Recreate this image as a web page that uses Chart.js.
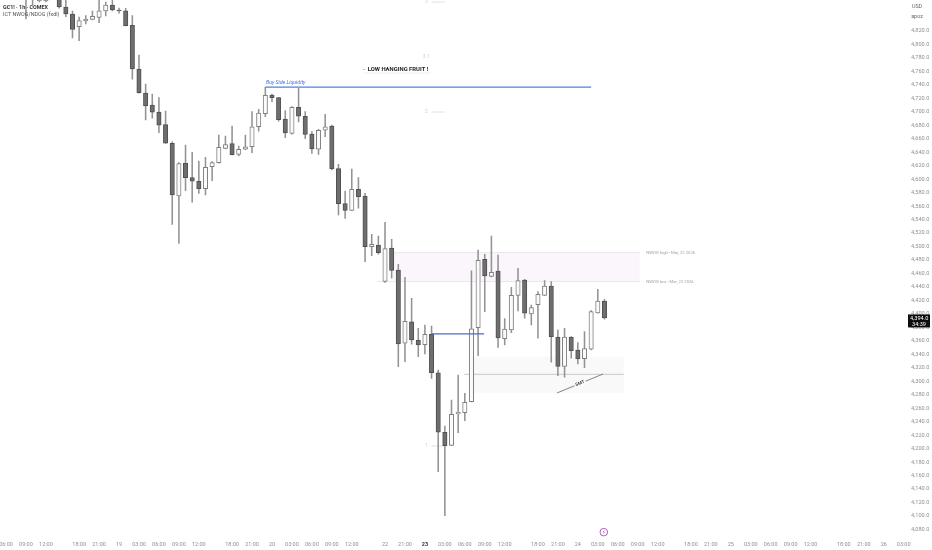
<!DOCTYPE html>
<html lang="en">
<head>
    <meta charset="UTF-8">
    <title>GC1! 1h</title>
    <script src="https://cdn.jsdelivr.net/npm/chart.js"></script>
    <style>
        html, body { margin: 0; padding: 0; background: #fff; overflow: hidden; }
        canvas { display: block; }
    </style>
</head>
<body>

    <canvas id="priceChart" width="932" height="550"></canvas>

    <script>
        // candles, first three bars are above the visible range
        const opens = [null, null, null, 4881, 4896, 4864.5, 4864.5, 4900, 4880, 4855.6,
            4845.2, 4826.4, 4834.8, 4837.3, 4840.3, 4849.7, 4858.6, 4851.2, 4850.1, 4828.4,
            4763.6, 4728, 4710.1, 4699.7, 4680.9, 4653.3, 4575, 4623.6, 4602.2, 4596.9,
            4585.9, 4618.5, 4624.5, 4645.8, 4652.7, 4636.9, 4644.4, 4648.2, 4677.9, 4697.2,
            4725, 4721, 4689.3, 4668.1, 4706.7, 4693.4, 4667, 4644.4, 4672.6, 4678.9,
            4615.6, 4563.6, 4553.8, 4585, 4575, 4499.8, 4502.3, 4448.4, 4497.8, 4465.2,
            4356.4, 4388.4, 4360.8, 4354.3, 4369.7, 4312.7, 4224.3, 4204.9, 4251.4, 4253.3,
            4269.7, 4379.5, 4481, 4455.8, 4463.7, 4363.2, 4376.1, 4427.6, 4450.3, 4399.9,
            4413.7, 4427.6, 4441.4, 4365.7, 4322.2, 4365.7, 4346.4, 4333.5, 4347.5, 4401.3,
            4419.2];
        const highs = [null, null, null, 4895, 4905, 4895, 4890, 4910, 4890, 4866,
            4849.7, 4840.8, 4843, 4849.7, 4866, 4863, 4870, 4854.1, 4853.7, 4842.7,
            4784.4, 4741.3, 4726.5, 4721, 4701.2, 4655.6, 4624.5, 4650.7, 4639.9, 4627,
            4632.5, 4626, 4665.6, 4664, 4679, 4649.3, 4665.6, 4700.2, 4703.7, 4736.4,
            4726.5, 4721.6, 4701.7, 4707.6, 4734.9, 4700.2, 4670.5, 4674.1, 4696.3, 4680.4,
            4622.1, 4582.5, 4615.1, 4602.2, 4579, 4518.2, 4515.7, 4536, 4510.8, 4473.6,
            4454.3, 4423.2, 4378.6, 4383.5, 4382, 4316.7, 4233.6, 4272.2, 4309.3, 4282.1,
            4464.1, 4494.9, 4488.5, 4515.7, 4487.5, 4392.9, 4439.5, 4467.7, 4451.4, 4413.2,
            4433, 4449.3, 4447.8, 4376.1, 4378.6, 4366.2, 4357.3, 4373.6, 4404.8, 4436.5,
            4421.7];
        const lows = [null, null, null, 4837.8, 4858.6, 4863, 4863, 4870, 4854, 4841.2,
            4809.6, 4805.6, 4830.4, 4836.3, 4832.3, 4842.2, 4849.7, 4846.3, 4827.4, 4748.3,
            4727.5, 4687.9, 4690.4, 4669, 4653, 4533, 4504.8, 4582.9, 4565.7, 4579,
            4576.5, 4597.7, 4623.6, 4644.8, 4635.9, 4634.4, 4643.8, 4639.3, 4671.1, 4692.8,
            4715, 4686, 4661.6, 4667, 4684.9, 4660.1, 4638.4, 4636.9, 4663, 4613.6,
            4546.8, 4541.9, 4553.2, 4556.8, 4477.5, 4486.4, 4488.5, 4446.9, 4452.9, 4321.6,
            4329, 4354.9, 4336.5, 4340.5, 4304.4, 4165.8, 4100.4, 4204.4, 4223.6, 4241.5,
            4269.2, 4338, 4403.3, 4454.8, 4350.4, 4353.8, 4372.1, 4404.3, 4393.5, 4383.5,
            4363.8, 4427, 4328.2, 4308.3, 4305.9, 4334.1, 4325.6, 4320, 4346.4, 4400.9,
            4392];
        const closes = [null, null, null, 4867.5, 4873, 4890, 4885, 4875, 4855.6, 4845.2,
            4822.2, 4835.3, 4837.8, 4841.8, 4850.1, 4858.6, 4851.2, 4849.7, 4827.8, 4763.6,
            4728.4, 4708.6, 4699.3, 4680, 4653.3, 4576.5, 4623, 4602.2, 4596.9, 4585.9,
            4617.6, 4624.5, 4647.3, 4651.2, 4636.3, 4644.4, 4648.2, 4677.9, 4698.2, 4724.5,
            4721, 4688.3, 4668.6, 4706.7, 4693.4, 4666.6, 4644.8, 4672.6, 4677.9, 4615.6,
            4563.6, 4553.8, 4585, 4574, 4499.8, 4503.3, 4490.9, 4496.8, 4464.7, 4355.3,
            4389, 4361.3, 4353.8, 4369.7, 4312.7, 4224.3, 4204.4, 4251, 4253.9, 4268.8,
            4378, 4479.6, 4456.3, 4461.8, 4364.2, 4377.6, 4427.6, 4449.3, 4400.9, 4409.2,
            4429.1, 4441.4, 4366.2, 4322.2, 4365.7, 4345.4, 4333.1, 4348.4, 4403.3, 4419.2,
            4394];

        const barCount = 136;
        const tickBars = [0, 3, 6, 11, 14, 17, 20, 23, 26, 29, 34, 37, 40, 43, 46, 49, 52, 57, 60, 63, 66,
            69, 72, 75, 80, 83, 86, 89, 92, 95, 98, 103, 106, 109, 112, 115, 118, 121, 126, 129, 132, 135];
        const tickLabels = ["06:00", "09:00", "12:00", "18:00", "21:00", "19", "03:00", "06:00", "09:00", "12:00",
            "18:00", "21:00", "20", "03:00", "06:00", "09:00", "12:00", "22", "21:00", "23", "03:00",
            "06:00", "09:00", "12:00", "18:00", "21:00", "24", "03:00", "06:00", "09:00", "12:00",
            "18:00", "21:00", "25", "03:00", "06:00", "09:00", "12:00", "18:00", "21:00", "26", "03:00"];
        const yTicks = [4820, 4800, 4780, 4760, 4740, 4720, 4700, 4680, 4660, 4640, 4620, 4600, 4580, 4560,
            4540, 4520, 4500, 4480, 4460, 4440, 4420, 4400, 4380, 4360, 4340, 4320, 4300, 4280, 4260,
            4240, 4220, 4200, 4180, 4160, 4140, 4120, 4100, 4080];

        const lastPrice = 4394;
        const countdown = "34:39";

        // drawings, x in bars and y in price
        const nwogZone = [58.2, 95.3, 4490.9, 4448];
        const fvgZone = [70.2, 92.9, 4336.5, 4283];
        const buySideLine = [39, 88, 4736.8];
        const midBlueLine = [64, 71.9, 4370.2];
        const smtLine = [82.86, 4282.6, 89.8, 4310.8];

        let categories = new Array(barCount).fill("");
        tickBars.forEach((b, i) => { categories[b] = tickLabels[i]; });

        let wicks = [], bodies = [], bodyFill = [], bodyEdge = [];
        opens.forEach((o, i) => {
            wicks.push(o === null ? null : [lows[i], highs[i]]);
            bodies.push(o === null ? null : [o, closes[i]]);
            bodyFill.push(closes[i] < o ? "#6e6e6e" : "#fbfbfb");
            bodyEdge.push(closes[i] < o ? "#505050" : "#808080");
        });

        const fontName = "Roboto, 'Liberation Sans', sans-serif";

        const drawings = {
            id: "drawings",
            beforeDatasetsDraw(chart) {
                const ctx = chart.ctx, sx = chart.scales.x, sy = chart.scales.y;
                const X = v => sx.getPixelForValue(v), Y = v => sy.getPixelForValue(v);
                ctx.save();
                // NWOG box
                ctx.fillStyle = "#faf6fb";
                ctx.fillRect(X(nwogZone[0]), Y(nwogZone[2]), X(nwogZone[1]) - X(nwogZone[0]), Y(nwogZone[3]) - Y(nwogZone[2]));
                ctx.strokeStyle = "#eae7ec";
                ctx.lineWidth = 1;
                hline(ctx, X(nwogZone[0]) - 1, X(nwogZone[1]), Y(nwogZone[2]));
                hline(ctx, X(55.8), X(nwogZone[1]), Y(nwogZone[3]));
                // lower box
                ctx.fillStyle = "#f9f9f9";
                ctx.fillRect(X(fvgZone[0]), Y(fvgZone[2]), X(fvgZone[1]) - X(fvgZone[0]), Y(fvgZone[3]) - Y(fvgZone[2]));
                ctx.strokeStyle = "#c8c8c8";
                hline(ctx, X(68.9), X(fvgZone[1]), Y(4310.3));
                // faint fib numbers
                ctx.strokeStyle = "#e2e2e2";
                ctx.fillStyle = "#d4d4d4";
                ctx.font = "5.5px " + fontName;
                ctx.textBaseline = "middle";
                ctx.textAlign = "center";
                [["3", 4863], ["3.1", 4781.4], ["2", 4699.7], ["1", 4204]].forEach(f => {
                    ctx.fillText(f[0], X(63.2), Y(f[1]));
                    if (f[0] !== "3.1") hline(ctx, X(64), X(66), Y(f[1]));
                });
                ctx.restore();
            },
            afterDatasetsDraw(chart) {
                const ctx = chart.ctx, sx = chart.scales.x, sy = chart.scales.y;
                const X = v => sx.getPixelForValue(v), Y = v => sy.getPixelForValue(v);
                ctx.save();
                // liquidity lines
                ctx.strokeStyle = "#4f7fe6";
                ctx.lineWidth = 1.2;
                hline(ctx, X(buySideLine[0]), X(buySideLine[1]), Y(buySideLine[2]));
                ctx.strokeStyle = "#4a6fc4";
                hline(ctx, X(midBlueLine[0]), X(midBlueLine[1]), Y(midBlueLine[2]));
                ctx.textBaseline = "middle";
                ctx.textAlign = "left";
                ctx.fillStyle = "#3f6fe0";
                ctx.font = "italic 5.2px " + fontName;
                ctx.fillText("Buy Side Liquidity", X(39.1), Y(4743));
                // callout
                ctx.strokeStyle = "#ececec";
                ctx.lineWidth = 1;
                hline(ctx, X(53.9), X(63.9), Y(4757.6));
                ctx.fillStyle = "#222";
                ctx.font = "bold 5.9px " + fontName;
                ctx.fillText("LOW HANGING FRUIT !", X(54.4), Y(4763));
                ctx.fillText("·", X(53.7), Y(4763));
                // zone labels
                ctx.fillStyle = "#a0a0a0";
                ctx.font = "4.2px " + fontName;
                ctx.fillText("NWOG high - Mar, 22 2026", X(96.3), Y(nwogZone[2]));
                ctx.fillText("NWOG low - Mar, 22 2026", X(96.3), Y(nwogZone[3]));
                // SMT line with its label
                const x1 = X(smtLine[0]), y1 = Y(smtLine[1]), x2 = X(smtLine[2]), y2 = Y(smtLine[3]);
                ctx.strokeStyle = "#666";
                ctx.lineWidth = 0.8;
                ctx.beginPath();
                ctx.moveTo(x1, y1);
                ctx.lineTo(x2, y2);
                ctx.stroke();
                ctx.save();
                ctx.translate((x1 + x2) / 2, (y1 + y2) / 2);
                ctx.rotate(Math.atan2(y2 - y1, x2 - x1));
                ctx.fillStyle = "#fcfcfc";
                ctx.fillRect(-6, -3, 12, 6);
                ctx.fillStyle = "#444";
                ctx.font = "bold 4.5px " + fontName;
                ctx.textAlign = "center";
                ctx.fillText("SMT", 0, 0);
                ctx.restore();
                // legend top left
                ctx.fillStyle = "#333";
                ctx.font = "bold 5.4px " + fontName;
                ctx.fillText("GC1! · 1h · COMEX", 3, 7.5);
                ctx.fillStyle = "#555";
                ctx.font = "5.4px " + fontName;
                ctx.fillText("ICT NWOG/NDOG (fxdl)", 3, 14.5);
                // currency
                ctx.fillStyle = "#666";
                ctx.textAlign = "center";
                ctx.fillText("USD", 917, 7);
                ctx.fillText("apoz", 917, 17);
                // last price tag
                const py = Y(lastPrice);
                ctx.fillStyle = "#0d0d0d";
                ctx.fillRect(908, py - 3.5, 22, 13);
                ctx.fillStyle = "#fff";
                ctx.textAlign = "left";
                ctx.font = "5.6px " + fontName;
                ctx.fillText("4,394.0", 910, py + 0.5);
                ctx.fillText(countdown, 912, py + 6.2);
                // event marker
                const mx = X(89.9), my = Y(4076);
                ctx.strokeStyle = "#a84db5";
                ctx.lineWidth = 0.9;
                ctx.beginPath();
                ctx.arc(mx, my, 3.8, 0, Math.PI * 2);
                ctx.stroke();
                ctx.fillStyle = "#8e3aa0";
                ctx.textAlign = "center";
                ctx.font = "bold 5.5px 'DejaVu Sans'";
                ctx.fillText("⚡", mx, my);
                ctx.restore();
            }
        };

        function hline(ctx, x1, x2, y) {
            ctx.beginPath();
            ctx.moveTo(x1, y);
            ctx.lineTo(x2, y);
            ctx.stroke();
        }

        new Chart(document.getElementById("priceChart"), {
            type: "bar",
            data: {
                labels: categories,
                datasets: [
                    {
                        data: bodies,
                        backgroundColor: bodyFill,
                        borderColor: bodyEdge,
                        borderWidth: 1,
                        borderSkipped: false,
                        barThickness: 4.4,
                        grouped: false,
                        order: 1
                    },
                    {
                        data: wicks,
                        backgroundColor: "#939393",
                        borderWidth: 0,
                        barThickness: 0.9,
                        grouped: false,
                        order: 2
                    }
                ]
            },
            options: {
                responsive: false,
                animation: false,
                layout: { padding: { left: 2.675 } },
                plugins: {
                    legend: { display: false },
                    tooltip: { enabled: false }
                },
                scales: {
                    x: {
                        offset: true,
                        grid: { display: false, drawTicks: false },
                        border: { display: false },
                        afterFit: scale => {
                            // keep the first and last labels from pushing the plot inwards
                            scale.height = 13;
                            scale.paddingLeft = 0;
                            scale.paddingRight = 0;
                        },
                        ticks: {
                            autoSkip: false,
                            maxRotation: 0,
                            padding: 4,
                            color: c => c.tick && c.tick.label === "23" ? "#333" : "#909090",
                            font: c => ({
                                family: fontName,
                                size: 5.5,
                                weight: c.tick && c.tick.label === "23" ? "bold" : "normal"
                            })
                        }
                    },
                    y: {
                        position: "right",
                        min: 4068.8,
                        max: 4866,
                        grid: { display: false, drawTicks: false },
                        border: { display: false },
                        afterFit: scale => {
                            scale.width = 25;
                            scale.paddingTop = 0;
                            scale.paddingBottom = 0;
                        },
                        afterBuildTicks: scale => { scale.ticks = yTicks.map(v => ({ value: v })); },
                        ticks: {
                            autoSkip: false,
                            padding: 4,
                            crossAlign: "near",
                            color: "#909090",
                            font: { family: fontName, size: 5.6 },
                            callback: v => v.toLocaleString("en-US", { minimumFractionDigits: 1 })
                        }
                    }
                }
            },
            plugins: [drawings]
        });
    </script>

</body>
</html>
